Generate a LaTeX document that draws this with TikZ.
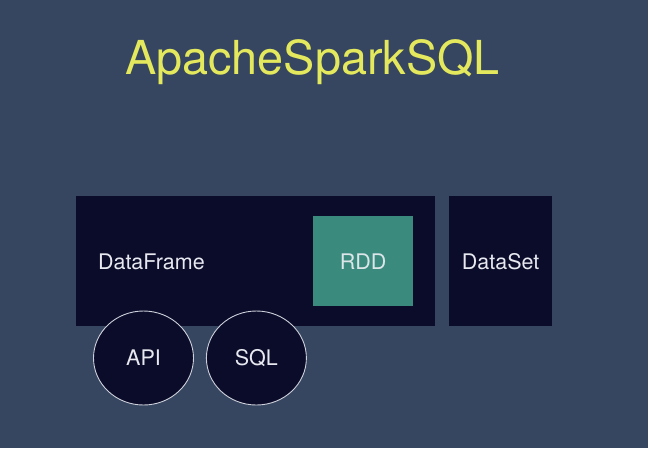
\documentclass[tikz,border=0pt]{standalone}
\usepackage{fontspec}
\setmainfont{TeX Gyre Heros}
\usetikzlibrary{
  positioning,
  shapes.geometric,
}
\definecolor{slate}{HTML}{364660}
\definecolor{navy}{HTML}{0B0C2A}
\definecolor{teal}{HTML}{3A8A7E}
\definecolor{lemon}{HTML}{E4E85C}
\definecolor{paper}{HTML}{E8E8F0}

\begin{document}
\begin{tikzpicture}[x=1pt,y=-1pt,
  block/.style={fill=navy, inner sep=0pt, anchor=north west},
  label/.style={text=paper, font=\fontsize{21.5}{25}\selectfont},
  bubble/.style={ellipse, draw=paper!85!slate, line width=0.9pt, fill=navy,
    minimum width=100pt, minimum height=94pt, inner sep=0pt},
]
\fill[slate] (0,0) rectangle (648,448);
\useasboundingbox (0,0) rectangle (648,448);

\node[text=lemon, font=\fontsize{46.8}{56}\selectfont] (title) at (312.5,62) {ApacheSparkSQL};

\node[block, minimum width=359pt, minimum height=130pt] (frame) at (76,196) {};
\node[block, minimum width=103pt, minimum height=130pt] (set) at (449,196) {};
\node[fill=teal, inner sep=0pt, anchor=north west,
  minimum width=100pt, minimum height=90pt] (rdd) at (313,216) {};

\node[label, anchor=west] (frametext) at (94.5,262) {DataFrame};
\node[label, text=paper!80!teal!60!white] at (rdd.center) {RDD};
\node[label] at (set.center) {DataSet};

\node[bubble] (api) at (143.5,358) {};
\node[bubble, right=12pt of api] (sql) {};
\node[label] at (api.center) {API};
\node[label] at (sql.center) {SQL};
\end{tikzpicture}
\end{document}
